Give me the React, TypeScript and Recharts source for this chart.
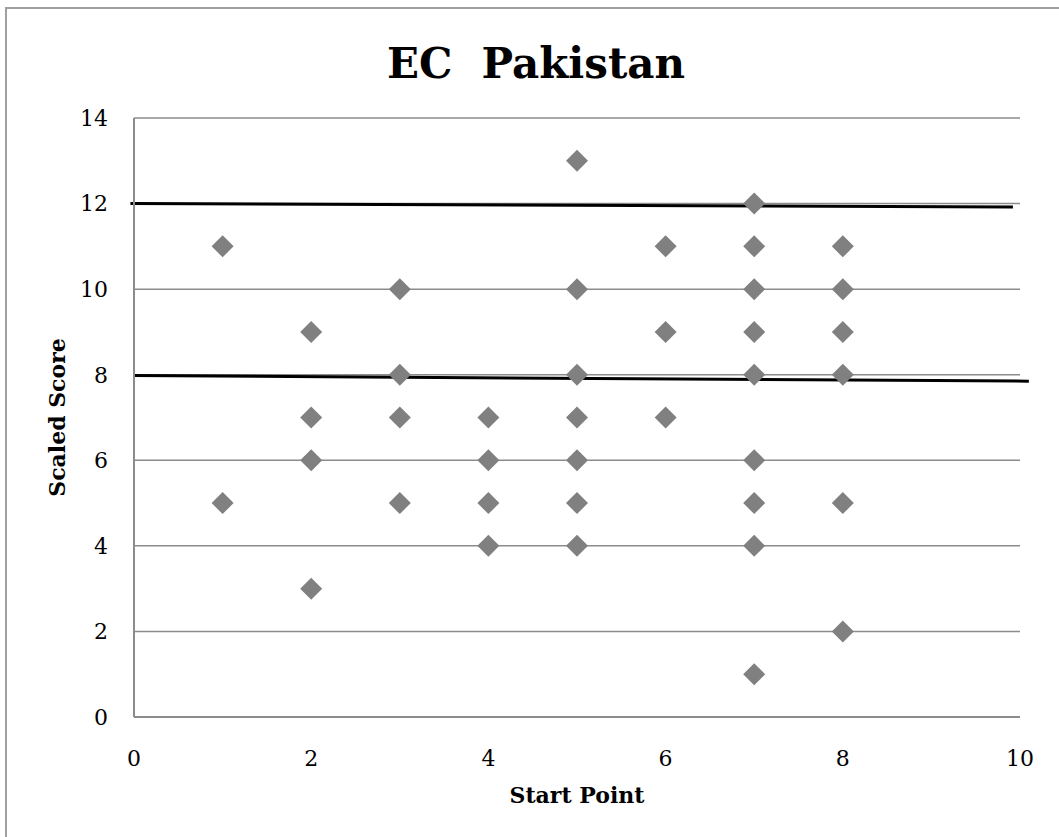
import { ScatterChart, Scatter, XAxis, YAxis, CartesianGrid, ReferenceLine } from "recharts"

// scores per start point
const startPoints = [1, 2, 3, 4, 5, 6, 7, 8]
const scoresByStart = [
  [11, 5],
  [9, 7, 6, 3],
  [10, 8, 7, 5],
  [7, 6, 5, 4],
  [13, 10, 8, 7, 6, 5, 4],
  [11, 9, 7],
  [12, 11, 10, 9, 8, 6, 5, 4, 1],
  [11, 10, 9, 8, 5, 2],
]
const xTicks = [0, 2, 4, 6, 8, 10]
const yTicks = [0, 2, 4, 6, 8, 10, 12, 14]
// hand-drawn cut-off lines (start/end in data units)
const upperLine = [{ x: -0.04, y: 12.0 }, { x: 9.92, y: 11.92 }]
const lowerLine = [{ x: -0.01, y: 7.98 }, { x: 10.1, y: 7.85 }]

const points = startPoints.flatMap((sp, i) => scoresByStart[i].map((s) => ({ start: sp, score: s })))

const font = "'DejaVu Serif', 'Liberation Serif', serif"

const Diamond = (props: any) => {
  const { cx, cy } = props
  const r = 11
  return <polygon points={`${cx},${cy - r} ${cx + r},${cy} ${cx},${cy + r} ${cx - r},${cy}`} fill="#808080" />
}

export default function App() {
  return (
    <div style={{ position: "absolute", left: 0, top: 0, width: 1059, height: 837, overflow: "hidden", background: "#fff" }}>
      <div style={{ position: "absolute", left: 5, top: 7, width: 1100, height: 900, border: "2px solid #a0a0a0", boxSizing: "border-box" }} />
      <div style={{ position: "absolute", left: 0, top: 39, width: 1072, textAlign: "center", fontFamily: font, fontWeight: "bold", fontSize: 42, color: "#000" }}>
        EC&nbsp;&nbsp;Pakistan
      </div>
      <div style={{ position: "absolute", left: 0, top: 0 }}>
        <ScatterChart width={1059} height={837} margin={{ top: 118, right: 39, bottom: 90, left: 74 }}>
          <CartesianGrid vertical={false} stroke="#8c8c8c" strokeWidth={1.5} />
          <XAxis
            type="number"
            dataKey="start"
            domain={[0, 10]}
            ticks={xTicks}
            tickLine={false}
            tickMargin={27}
            stroke="#8c8c8c"
            strokeWidth={2}
            tick={{ fill: "#000", fontSize: 22, fontFamily: font }}
            label={{ value: "Start Point", position: "bottom", offset: 40, style: { fontFamily: font, fontWeight: "bold", fontSize: 22, fill: "#000" } }}
          />
          <YAxis
            type="number"
            dataKey="score"
            domain={[0, 14]}
            ticks={yTicks}
            width={60}
            tickLine={false}
            tickMargin={20}
            stroke="#8c8c8c"
            strokeWidth={2}
            tick={{ fill: "#000", fontSize: 22, fontFamily: font }}
            label={{ value: "Scaled Score", angle: -90, position: "insideLeft", offset: -17, style: { textAnchor: "middle", fontFamily: font, fontWeight: "bold", fontSize: 22, fill: "#000" } }}
          />
          <Scatter data={points} shape={<Diamond />} isAnimationActive={false} />
          <ReferenceLine segment={upperLine} stroke="#000" strokeWidth={3} ifOverflow="visible" />
          <ReferenceLine segment={lowerLine} stroke="#000" strokeWidth={3} ifOverflow="visible" />
        </ScatterChart>
      </div>
    </div>
  )
}
